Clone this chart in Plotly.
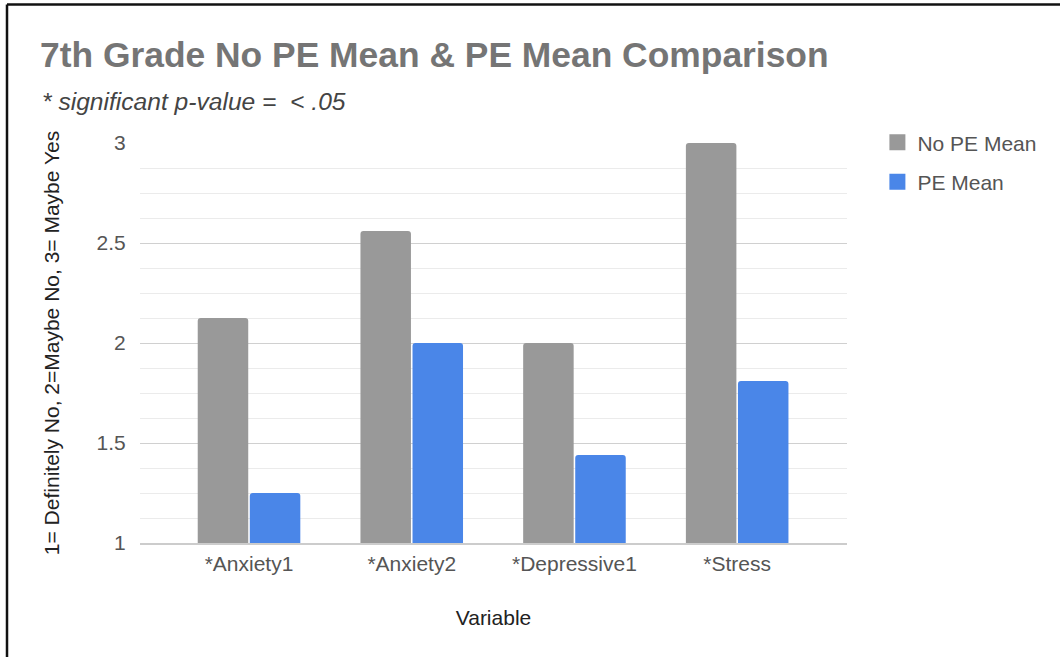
import plotly.graph_objects as go

# Survey variables and group means (1 = Definitely No ... 3 = Maybe Yes)
categories = ["*Anxiety1", "*Anxiety2", "*Depressive1", "*Stress"]
no_pe_mean = [2.125, 2.56, 2.0, 3.0]
pe_mean = [1.25, 2.0, 1.44, 1.81]
series_names = ["No PE Mean", "PE Mean"]
y_ticks = [1, 1.5, 2, 2.5, 3]
y_tick_labels = ["1", "1.5", "2", "2.5", "3"]

GRAY = "#999999"
BLUE = "#4a86e8"
FONT = "Liberation Sans, Arial, sans-serif"

W, H = 1060, 657
L, R, T, B = 140, 213, 143, 114

fig = go.Figure()
for name, vals, color in [(series_names[0], no_pe_mean, GRAY),
                          (series_names[1], pe_mean, BLUE)]:
    fig.add_trace(go.Bar(
        x=categories, y=vals, name=name, showlegend=False,
        marker=dict(color=color, line=dict(width=0), cornerradius=3),
        hoverinfo="x+y+name",
    ))
    # larger square swatches for the legend, one group per series
    fig.add_trace(go.Scatter(
        x=[None], y=[None], mode="markers", name=name, legendgroup=name,
        marker=dict(symbol="square", size=20, color=color),
    ))

fig.update_layout(
    width=W, height=H,
    margin=dict(l=L, r=R, t=T, b=B, pad=0),
    paper_bgcolor="white", plot_bgcolor="white",
    font=dict(family=FONT, size=21, color="#555555"),
    barmode="group", bargap=0.36, bargroupgap=0.03,
    title=dict(
        text="<b>7th Grade No PE Mean & PE Mean Comparison</b>",
        font=dict(family=FONT, size=35.4, color="#757575"),
        x=40 / W, xanchor="left", xref="container",
        y=1 - 55 / H, yanchor="middle", yref="container",
    ),
    legend=dict(
        x=1.043, xanchor="left", y=1.052, yanchor="top",
        font=dict(family=FONT, size=21, color="#555555"),
        itemsizing="trace", tracegroupgap=9, bgcolor="rgba(0,0,0,0)",
    ),
    xaxis=dict(
        range=[-0.67, 3.675], showgrid=False, zeroline=False,
        showline=True, linecolor="#cccccc", linewidth=1.5,
        ticks="outside", ticklen=1, tickcolor="rgba(0,0,0,0)",
        tickfont=dict(size=21, color="#555555"),
        title=dict(text="Variable", font=dict(size=21, color="#222222"), standoff=36),
        fixedrange=True,
    ),
    yaxis=dict(
        range=[1, 3], tickvals=y_ticks, ticktext=y_tick_labels,
        showgrid=True, gridcolor="#d0d0d0", gridwidth=1.2, zeroline=False,
        showline=False,
        minor=dict(dtick=0.125, tick0=1, showgrid=True, gridcolor="#ebebeb", gridwidth=1.2),
        ticks="outside", ticklen=9, tickcolor="rgba(0,0,0,0)",
        tickfont=dict(size=21, color="#555555"),
        title=dict(text="1= Definitely No, 2=Maybe No, 3= Maybe Yes",
                   font=dict(size=21, color="#222222"), standoff=31),
        fixedrange=True,
    ),
    annotations=[dict(
        text="<i>* significant p-value =  < .05</i>",
        xref="paper", yref="paper",
        x=(40 - L) / (W - L - R), xanchor="left",
        y=(H - B - 101) / (H - T - B), yanchor="middle",
        showarrow=False, font=dict(family=FONT, size=24.6, color="#444444"),
    )],
    shapes=[
        # frame edges at top and left
        dict(type="line", xref="paper", yref="paper",
             x0=(7 - L) / (W - L - R), x1=(W + 5 - L) / (W - L - R),
             y0=(H - B - 4.5) / (H - T - B), y1=(H - B - 4.5) / (H - T - B),
             line=dict(color="#111111", width=2.5)),
        dict(type="line", xref="paper", yref="paper",
             x0=(7 - L) / (W - L - R), x1=(7 - L) / (W - L - R),
             y0=(H - B - 4.5) / (H - T - B), y1=(H - B - H - 5) / (H - T - B),
             line=dict(color="#111111", width=2.5)),
    ],
)

fig.write_html("out.html", include_plotlyjs=True, config={"displayModeBar": False})
